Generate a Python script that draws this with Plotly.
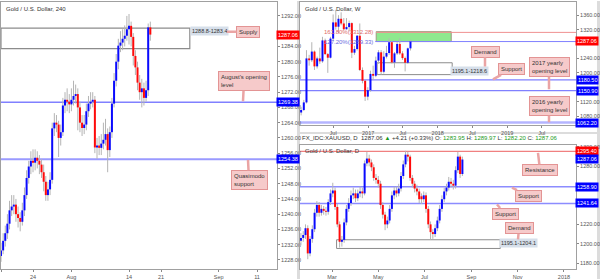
import numpy as np
import pandas as pd
import plotly.graph_objects as go

# ---------------- data: left panel (Gold / U.S. Dollar, 240) ----------------
left_open = [1229,1230.5,1233,1235,1237.5,1241,1242,1242.5,1240,1239,1238,1241,1245,1249.5,1252.5,1254,1253.5,1254.8,1254,1253,1251,1248.5,1245,1246.5,1249,1262.5,1264,1263.5,1260,1261.5,1268.5,1270,1269.5,1268.8,1270,1271,1271.5,1268,1264,1262.6,1263.5,1267,1269,1269.5,1270,1257.5,1258,1257.4,1258.5,1259.5,1261,1256.8,1261.5,1269,1275,1280,1284.2,1285,1286,1286.8,1288.5,1289.4,1286.5,1281.5,1278.5,1274.5,1272,1273,1270.5,1272.5,1289]
left_high = [1232.5,1235,1237,1240,1243.5,1245,1245,1244,1242,1240.5,1243,1247,1251.5,1254,1256.5,1257,1257,1256.5,1255.5,1254.5,1253,1250,1248.5,1251,1264,1266.5,1266,1264.5,1263.5,1270.5,1272,1273,1271.5,1273,1275,1274,1273,1269.5,1266,1266,1269,1271,1272,1272,1271,1260,1260.5,1261,1264,1265,1262.5,1263,1270.5,1277,1282,1286,1288,1288.5,1289.5,1292,1292.5,1290.5,1287.5,1283,1280,1276.5,1275.5,1274.5,1275,1290,1290.5]
left_low = [1227.5,1229.5,1231.5,1233.5,1236,1239.5,1240,1238,1236.5,1235.5,1237,1239.5,1244,1248,1250.5,1251,1251.5,1252,1250.5,1249.5,1246,1243.5,1243.5,1245,1248,1260.5,1261.5,1255,1258,1260.5,1266.5,1267,1266.5,1267,1268.5,1269,1262,1261.5,1260.5,1261,1262,1265.5,1267.5,1268,1256,1254.5,1255.5,1255.5,1257,1258,1251,1255,1260,1268,1273.5,1278,1282.5,1283,1284,1285.5,1284.5,1284,1279,1276.5,1272.5,1270,1268,1268.5,1269.5,1271,1285.5]
left_close = [1230.5,1233,1235,1237.5,1241,1242,1242.5,1240,1239,1238,1241,1245,1249.5,1252.5,1254,1253.5,1254.8,1254,1253,1251,1248.5,1245,1246.5,1249,1262.5,1264,1263.5,1260,1261.5,1268.5,1270,1269.5,1268.8,1270,1271,1271.5,1268,1264,1262.6,1263.5,1267,1269,1269.5,1270,1257.5,1258,1257.4,1258.5,1259.5,1261,1256.8,1261.5,1269,1275,1280,1284.2,1285,1286,1286.8,1288.5,1289.4,1286.5,1281.5,1278.5,1274.5,1272,1273,1270.5,1272.5,1289,1287.1]
left_tickvals = [0, 5, 11, 20, 25, 34, 40]
left_ticktext = ["17", "24", "Aug", "14", "21", "Sep", "11"]
left_price_ticks = [1228,1232,1236,1240,1244,1248,1252,1256,1260,1264,1268,1272,1276,1280,1284,1292]

# ---------------- data: top-right panel (weekly) ----------------
w_start, w_count = "2016-01-15", 42
w_open = [1090,1097,1118,1240,1235,1259,1218,1240,1232,1290,1252,1242,1295,1340,1328,1350,1337,1321,1327,1338,1256,1266,1303,1208,1178,1134,1152,1197,1192,1234,1257,1203,1245,1255,1285,1229,1254,1280,1254,1241,1228,1268]
w_high = [1105,1125,1263,1250,1285,1262,1245,1270,1300,1295,1255,1300,1362,1375,1360,1368,1352,1352,1345,1340,1275,1305,1337,1215,1180,1160,1206,1220,1245,1263,1263,1260,1275,1296,1288,1258,1285,1296,1260,1245,1270,1292]
w_low = [1082,1094,1115,1220,1230,1208,1212,1225,1228,1250,1200,1240,1290,1320,1310,1332,1318,1320,1315,1241,1250,1262,1205,1171,1122,1124,1148,1180,1188,1225,1195,1198,1240,1250,1226,1214,1250,1250,1236,1204,1225,1262]
w_close = [1097,1118,1240,1235,1259,1218,1240,1232,1290,1252,1242,1295,1340,1328,1350,1337,1321,1327,1338,1256,1266,1303,1208,1178,1134,1152,1197,1192,1234,1257,1203,1245,1255,1285,1229,1254,1280,1254,1241,1228,1268,1287]
w_tickvals = ["2016-07-01","2017-01-01","2017-07-01","2018-01-01","2018-07-01","2019-01-01","2019-07-01"]
w_ticktext = ["Jul","2017","Jul","2018","Jul","2019","Jul"]
w_price_ticks = [1080,1120,1200,1240,1320,1360]

# ---------------- data: bottom-right panel (daily) ----------------
d_start, d_count = "2017-01-19", 72
d_open = [1203,1206,1209,1216,1190,1205,1215,1232,1240,1232,1236,1234,1233,1243,1252,1255,1238,1220,1202,1204,1222,1236,1242,1250,1252,1247,1252,1254,1252,1283,1288,1284,1279,1268,1266,1262,1240,1230,1220,1224,1236,1250,1255,1252,1257,1270,1282,1292,1290,1268,1262,1257,1254,1249,1246,1250,1236,1220,1212,1210,1216,1224,1236,1246,1254,1258,1264,1262,1260,1276,1290,1272]
d_high = [1211,1213,1220,1219,1208,1219,1236,1244,1243,1240,1239,1238,1246,1256,1263,1258,1241,1223,1208,1226,1240,1247,1255,1258,1256,1256,1259,1258,1286,1295,1292,1287,1282,1272,1270,1265,1243,1233,1228,1240,1254,1259,1259,1262,1274,1286,1296,1295,1292,1271,1265,1261,1257,1252,1254,1253,1239,1223,1215,1220,1228,1240,1250,1258,1262,1269,1268,1266,1280,1295,1292,1290]
d_low = [1199,1202,1205,1184,1187,1201,1212,1228,1228,1229,1230,1229,1230,1240,1248,1235,1217,1196,1197,1201,1219,1233,1239,1246,1243,1244,1248,1247,1250,1280,1280,1275,1265,1262,1258,1236,1226,1214,1216,1221,1233,1246,1248,1249,1254,1267,1279,1285,1265,1258,1253,1250,1242,1241,1243,1232,1216,1204,1205,1207,1213,1221,1233,1243,1250,1255,1258,1256,1257,1273,1268,1270]
d_close = [1206,1209,1216,1190,1205,1215,1232,1240,1232,1236,1234,1233,1243,1252,1255,1238,1220,1202,1204,1222,1236,1242,1250,1252,1247,1252,1254,1252,1283,1288,1284,1279,1268,1266,1262,1240,1230,1220,1224,1236,1250,1255,1252,1257,1270,1282,1292,1290,1268,1262,1257,1254,1246,1246,1250,1236,1220,1212,1210,1216,1224,1236,1246,1254,1258,1264,1262,1260,1276,1290,1272,1287]
d_tickvals = ["2017-03-01","2017-05-01","2017-07-01","2017-09-01","2017-11-01","2018-01-01"]
d_ticktext = ["Mar","May","Jul","Sep","Nov","2018"]
d_price_ticks = [1180,1200,1220,1280,1300]

# levels
left_supply = (1283.4, 1288.8)
left_august_open = 1269.38
left_qm_support = 1254.38
w_fib_1618 = 1312.28
w_fib_1272 = 1289.33
w_support = 1180.50
w_open_2017 = 1150.90
w_open_2016 = 1062.20
w_demand = (1195.1, 1228.0)
d_resistance = 1295.40
d_support1 = 1258.90
d_support2 = 1241.64
d_demand = (1195.1, 1204.1)
last_price = 1287.06

W, H = 600, 280
UP, DOWN, WICK = "#0a0aff", "#ff0a0a", "#b4b4b4"
FONT = "Liberation Sans"


def candle_traces(x, o, h, l, c, xa, ya, minbody):
    wx, wy, ux, uy, dx, dy = [], [], [], [], [], []
    for xi, oi, hi, li, ci in zip(x, o, h, l, c):
        wx += [xi, xi, None]
        wy += [li, hi, None]
        lo, hb = min(oi, ci), max(oi, ci)
        if hb - lo < minbody:
            mid = (hb + lo) / 2
            lo, hb = mid - minbody / 2, mid + minbody / 2
        if ci >= oi:
            ux += [xi, xi, None]; uy += [lo, hb, None]
        else:
            dx += [xi, xi, None]; dy += [lo, hb, None]
    common = dict(mode="lines", xaxis=xa, yaxis=ya, hoverinfo="skip", showlegend=False)
    return [
        go.Scatter(x=wx, y=wy, line=dict(color=WICK, width=1), **common),
        go.Scatter(x=ux, y=uy, line=dict(color=UP, width=2), **common),
        go.Scatter(x=dx, y=dy, line=dict(color=DOWN, width=2), **common),
    ]


fig = go.Figure()
left_x = np.arange(len(left_close)) / 3.0
w_x = pd.date_range(w_start, periods=w_count, freq="14D")
d_x = pd.date_range(d_start, periods=d_count, freq="3D")

for t in candle_traces(left_x, left_open, left_high, left_low, left_close, "x", "y", 0.35):
    fig.add_trace(t)
for t in candle_traces(w_x, w_open, w_high, w_low, w_close, "x2", "y2", 3.0):
    fig.add_trace(t)
for t in candle_traces(d_x, d_open, d_high, d_low, d_close, "x3", "y3", 1.0):
    fig.add_trace(t)

axis_common = dict(showgrid=False, zeroline=False, showline=True, mirror=True,
                   linecolor="#a0a0a0", linewidth=1, ticks="outside", ticklen=2,
                   tickcolor="#888", tickfont=dict(size=5.5, color="#555", family=FONT))


def px_dom_x(a, b):
    return [a / W, b / W]


def px_dom_y(top, bottom):
    return [1 - bottom / H, 1 - top / H]


fig.update_layout(
    width=W, height=H, margin=dict(l=0, r=0, t=0, b=0),
    paper_bgcolor="white", plot_bgcolor="white",
    font=dict(family=FONT),
    xaxis=dict(domain=px_dom_x(1, 277), range=[0, 43.125], anchor="y",
               tickvals=left_tickvals, ticktext=left_ticktext, **axis_common),
    yaxis=dict(domain=px_dom_y(1, 270), range=[1225.6, 1295.65], anchor="x", side="right",
               tickvals=left_price_ticks, ticktext=[f"{v:.2f}" for v in left_price_ticks], **axis_common),
    xaxis2=dict(domain=px_dom_x(300, 576), range=["2016-01-09", "2019-12-28"], anchor="y2",
                tickvals=w_tickvals, ticktext=w_ticktext, **axis_common),
    yaxis2=dict(domain=px_dom_y(1, 125), range=[1055.0, 1396.6], anchor="x2", side="right",
                tickvals=w_price_ticks, ticktext=[f"{v:.2f}" for v in w_price_ticks], **axis_common),
    xaxis3=dict(domain=px_dom_x(300, 576), range=["2017-01-17 18:00", "2018-01-16 21:00"], anchor="y3",
                tickvals=d_tickvals, ticktext=d_ticktext, **axis_common),
    yaxis3=dict(domain=px_dom_y(145, 270), range=[1173.8, 1302.05], anchor="x3", side="right",
                tickvals=d_price_ticks, ticktext=[f"{v:.2f}" for v in d_price_ticks], **axis_common),
)

shapes = []
# separators
shapes.append(dict(type="rect", xref="paper", yref="paper", x0=297 / W, x1=300 / W, y0=0, y1=1,
                   fillcolor="#dcdcdc", line_width=0, layer="below"))
shapes.append(dict(type="rect", xref="paper", yref="paper", x0=597 / W, x1=1, y0=0, y1=1,
                   fillcolor="#dcdcdc", line_width=0, layer="below"))
shapes.append(dict(type="rect", xref="paper", yref="paper", x0=300 / W, x1=1, y0=1 - 134 / H, y1=1 - 132 / H,
                   fillcolor="#dcdcdc", line_width=0, layer="below"))


def hline(xref, yref, y, color, width):
    shapes.append(dict(type="line", xref=f"{xref} domain", yref=yref, x0=0, x1=1,
                       y0=y, y1=y, line=dict(color=color, width=width), layer="below"))


# left panel
shapes.append(dict(type="rect", xref="x", yref="y", x0=0, x1=29.5, y0=left_supply[0], y1=left_supply[1],
                   line=dict(color="#8c8c8c", width=1.2), layer="below"))
hline("x", "y", left_august_open, "#8080ff", 1.5)
hline("x", "y", left_qm_support, "#9a9aff", 2)

# top-right panel
shapes.append(dict(type="rect", xref="x2", yref="y2", x0="2017-02-12", x1="2018-03-13",
                   y0=w_fib_1272 - 2.5, y1=w_fib_1618 + 2,
                   fillcolor="#8ee88e", line=dict(color="#a09a80", width=1), layer="below"))
shapes.append(dict(type="rect", xref="x2", yref="y2", x0="2017-02-17", x1="2018-03-18",
                   y0=w_demand[0], y1=w_demand[1], fillcolor="white",
                   line=dict(color="#8c8c8c", width=1), layer="below"))
shapes.append(dict(type="line", xref="x2", yref="y2", x0="2017-02-12", x1="2019-12-28",
                   y0=w_fib_1618, y1=w_fib_1618, line=dict(color="#f09090", width=1), layer="below"))
shapes.append(dict(type="line", xref="x2", yref="y2", x0="2017-02-07", x1="2019-12-28",
                   y0=w_fib_1272 - 2.5, y1=w_fib_1272 - 2.5, line=dict(color="#8080ff", width=1), layer="below"))
hline("x2", "y2", w_support, "#8080ff", 1.2)
hline("x2", "y2", w_open_2017, "#8080ff", 1.2)
hline("x2", "y2", w_open_2016, "#b4b4ff", 2.5)

# bottom-right panel
shapes.append(dict(type="rect", xref="x3", yref="y3", x0="2017-03-07", x1="2017-10-09",
                   y0=d_demand[0], y1=d_demand[1], fillcolor="white",
                   line=dict(color="#8c8c8c", width=1), layer="below"))
hline("x3", "y3", d_resistance, "#f08080", 1.2)
hline("x3", "y3", d_support1, "#8c8cff", 1.5)
hline("x3", "y3", d_support2, "#8c8cff", 1.5)

fig.update_layout(shapes=shapes)

ann = []


def text(px, py, s, size=6, color="#333", anchor="left", bg=None):
    ann.append(dict(xref="paper", yref="paper", x=px / W, y=1 - py / H, text=s, showarrow=False,
                    xanchor=anchor, yanchor="middle", font=dict(size=size, color=color, family=FONT),
                    bgcolor=bg, borderpad=1))


def tag(px, yref, y, s, bg):
    ann.append(dict(xref="paper", yref=yref, x=px / W, y=y, text=s, showarrow=False,
                    xanchor="center", yanchor="middle", bgcolor=bg, borderpad=1,
                    font=dict(size=5.5, color="white", family=FONT)))


def callout(s, bx, by, tx, ty):
    ann.append(dict(xref="paper", yref="paper", x=tx / W, y=1 - ty / H, ax=bx - tx, ay=by - ty,
                    text=s, showarrow=True, arrowhead=0, arrowwidth=2.5, arrowcolor="#eaa4a4",
                    standoff=0, bgcolor="#f6caca", bordercolor="#e39494", borderwidth=1, borderpad=2,
                    align="left", font=dict(size=6, color="#333", family=FONT)))


# titles
text(4, 8, "Gold / U.S. Dollar, 240")
text(303, 8, "Gold / U.S. Dollar, W")
text(303, 151, "Gold / U.S. Dollar, D")
g = "#1a9a1a"
text(300, 138, f"FX_IDC:XAUUSD, D  1287.06 <span style='color:{g}'>▲</span> +4.21 (+0.33%) "
               f"O: <span style='color:{g}'>1283.95</span> H: <span style='color:{g}'>1289.97</span> "
               f"L: <span style='color:{g}'>1282.20</span> C: <span style='color:{g}'>1287.06</span>", size=6)

# left panel labels
text(209, 30, f"{left_supply[1]}-{left_supply[0]}", size=5.5, anchor="center", bg="#d6dfea")
callout("Supply", 248, 31, 227, 31)
callout("August's opening<br>level", 244, 81, 243, 101)
callout("Quasimodo<br>support", 249, 180, 248, 160)
tag(287.5, "y", last_price, f"{last_price:.2f}", "#ff0000")
tag(287.5, "y", left_august_open, f"{left_august_open:.2f}", "#0000ff")
tag(287.5, "y", left_qm_support, f"{left_qm_support:.2f}", "#0000ff")

# top-right labels
text(348, 31, f"161.80%({w_fib_1618:.2f})", size=6, color="#e06a6a", anchor="center")
text(348, 41, f"127.20%({w_fib_1272:.2f})", size=6, color="#6a6ae0", anchor="center")
text(469, 70, f"{w_demand[0]}-1218.6", size=5.5, anchor="center", bg="#d6dfea")
callout("Demand", 485, 51, 485, 66)
callout("Support", 511, 69, 493, 79)
callout("2017 yearly<br>opening level", 549, 67, 549, 89)
callout("2016 yearly<br>opening level", 549, 106, 549, 122)
tag(587, "y2", last_price, f"{last_price:.2f}", "#ff0000")
tag(587, "y2", w_support, f"{w_support:.2f}", "#0000ff")
tag(587, "y2", w_open_2017, f"{w_open_2017:.2f}", "#0000ff")
tag(587, "y2", w_open_2016, f"{w_open_2016:.2f}", "#0000ff")

# bottom-right labels
text(518, 244, f"{d_demand[0]}-{d_demand[1]}", size=5.5, anchor="center", bg="#d6dfea")
callout("Resistance", 540, 170, 538, 153)
callout("Support", 528, 196, 512, 188)
callout("Support", 505, 214, 497, 205)
callout("Demand", 519, 229, 518, 240)
tag(587, "y3", d_resistance, f"{d_resistance:.2f}", "#ff0000")
tag(587, "y3", last_price, f"{last_price:.2f}", "#0000ff")
tag(587, "y3", d_support1, f"{d_support1:.2f}", "#0000ff")
tag(587, "y3", d_support2, f"{d_support2:.2f}", "#0000ff")

fig.update_layout(annotations=ann)
fig.write_html("out.html")
